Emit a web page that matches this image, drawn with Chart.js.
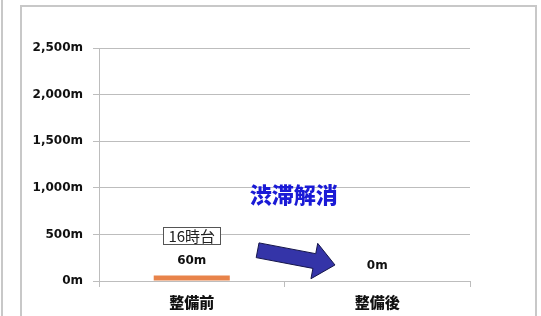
<!DOCTYPE html>
<html>
<head>
<meta charset="utf-8">
<script src="https://cdn.jsdelivr.net/npm/chart.js@4/dist/chart.umd.min.js"></script>
<style>
html,body{margin:0;padding:0;background:#fff;}
#wrap{position:relative;width:541px;height:316px;}
</style>
</head>
<body>
<div id="wrap"><canvas id="c" width="541" height="316"></canvas></div>
<script>
// ---- data ----
const categories = ['整備前', '整備後'];
const queueLength = [60, 0];              // 渋滞長 (m)
const valueLabels = ['60m', '0m'];
const yTickValues = [0, 500, 1000, 1500, 2000, 2500];
const timeNote = '16時台';
const headline = '渋滞解消';

const tickFont = {family: "'DejaVu Sans', Verdana, sans-serif", size: 12, weight: 'bold'};
const catFont = {family: "'Noto Sans CJK JP', sans-serif", size: 15, weight: '900'};

const decorPlugin = {
  id: 'decor',
  beforeDraw(chart) {
    const ctx = chart.ctx;
    ctx.save();
    ctx.fillStyle = '#fff';
    ctx.fillRect(0, 0, chart.width, chart.height);
    ctx.strokeStyle = '#c8c8c8';
    ctx.lineWidth = 2;
    ctx.beginPath();
    ctx.moveTo(2, 0); ctx.lineTo(2, chart.height);
    ctx.moveTo(21, chart.height + 5); ctx.lineTo(21, 6); ctx.lineTo(536, 6); ctx.lineTo(536, chart.height + 5);
    ctx.stroke();
    ctx.restore();
  },
  afterDatasetsDraw(chart) {
    const ctx = chart.ctx;
    const xs = chart.scales.x, ys = chart.scales.y;
    const meta = chart.getDatasetMeta(0);
    ctx.save();
    // value labels above bars
    ctx.font = "bold 12px 'DejaVu Sans', Verdana, sans-serif";
    ctx.fillStyle = '#111';
    ctx.textAlign = 'center';
    ctx.textBaseline = 'middle';
    meta.data.forEach((bar, i) => {
      ctx.fillText(valueLabels[i], bar.x, bar.y - 15);
    });
    // time note box above first bar
    const b0 = meta.data[0];
    ctx.font = "15px 'Noto Sans CJK JP', sans-serif";
    const tw = ctx.measureText(timeNote).width;
    const bw = tw + 10, bh = 17;
    const bx = b0.x - bw / 2, by = b0.y - 40 - bh / 2;
    ctx.fillStyle = '#fff';
    ctx.fillRect(bx, by, bw, bh);
    ctx.strokeStyle = '#555';
    ctx.lineWidth = 1;
    ctx.strokeRect(Math.round(bx) + 0.5, Math.round(by) + 0.5, Math.round(bw), Math.round(bh));
    ctx.fillStyle = '#222';
    ctx.fillText(timeNote, b0.x, by + bh / 2 + 1);
    // headline
    ctx.font = "900 22px 'Noto Sans CJK JP', sans-serif";
    ctx.fillStyle = '#1a1ad6';
    ctx.fillText(headline, xs.getPixelForValue(0.55), ys.getPixelForValue(925));
    // arrow
    const sx = xs.getPixelForValue(0.355), sy = ys.getPixelForValue(330);
    const ex = xs.getPixelForValue(0.772), ey = ys.getPixelForValue(172);
    const dx = ex - sx, dy = ey - sy, L = Math.hypot(dx, dy);
    const ux = dx / L, uy = dy / L, nx = -uy, ny = ux;
    const sw = 7.5, hw = 18, hl = 21;
    const bxh = ex - ux * hl, byh = ey - uy * hl;
    ctx.beginPath();
    ctx.moveTo(sx + nx * sw, sy + ny * sw);
    ctx.lineTo(bxh + nx * sw, byh + ny * sw);
    ctx.lineTo(bxh + nx * hw, byh + ny * hw);
    ctx.lineTo(ex, ey);
    ctx.lineTo(bxh - nx * hw, byh - ny * hw);
    ctx.lineTo(bxh - nx * sw, byh - ny * sw);
    ctx.lineTo(sx - nx * sw, sy - ny * sw);
    ctx.closePath();
    ctx.fillStyle = '#3434a8';
    ctx.fill();
    ctx.strokeStyle = '#15154a';
    ctx.lineWidth = 1;
    ctx.stroke();
    ctx.restore();
  }
};

new Chart(document.getElementById('c'), {
  type: 'bar',
  data: {
    labels: categories,
    datasets: [{
      data: queueLength,
      backgroundColor: '#e8834a',
      borderWidth: 0,
      barPercentage: 0.41,
      categoryPercentage: 1
    }]
  },
  options: {
    responsive: false,
    animation: false,
    events: [],
    layout: {padding: {left: 20, right: 71, top: 48, bottom: 0}},
    plugins: {legend: {display: false}, tooltip: {enabled: false}},
    scales: {
      x: {
        offset: true,
        grid: {offset: true, drawOnChartArea: false, drawTicks: true, tickLength: 6, color: '#bdbdbd', lineWidth: 1},
        border: {display: true, color: '#bdbdbd', width: 1},
        ticks: {font: catFont, color: '#111', padding: 6},
        afterFit(s) { s.height = 35; }
      },
      y: {
        min: 0,
        max: 2500,
        afterBuildTicks(s) { s.ticks = yTickValues.map(v => ({value: v})); },
        grid: {color: '#bdbdbd', lineWidth: 1, tickLength: 6, drawTicks: true},
        border: {display: true, color: '#bdbdbd', width: 1},
        ticks: {
          font: tickFont, color: '#111', padding: 10,
          callback: v => v.toLocaleString('en-US') + 'm'
        },
        afterFit(s) { s.width = 79; }
      }
    }
  },
  plugins: [decorPlugin]
});
</script>
</body>
</html>
